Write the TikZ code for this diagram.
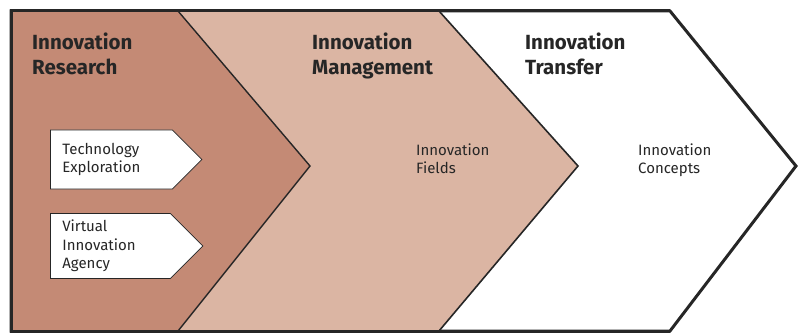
\documentclass[tikz,border=0pt]{standalone}
\usepackage{fontspec}
\setmainfont{Fira Sans}
\usepackage{tikz}
\usetikzlibrary{shapes.symbols}
\definecolor{research}{HTML}{C48A75}
\definecolor{management}{HTML}{DBB5A3}
\colorlet{transfer}{white}
\colorlet{ink}{black!85}
\tikzset{
  stage title/.style={anchor=north west,align=left,inner sep=0pt,text=ink,
    font=\bfseries\fontsize{20.5}{25}\selectfont},
  stage item/.style={anchor=north west,align=left,inner sep=0pt,text=ink,
    font=\fontsize{15}{17.5}\selectfont},
  subtask/.style={signal,signal to=east,signal pointer angle=90,draw=ink,
    fill=white,thick,anchor=west,inner xsep=12pt,align=left,
    text=ink,font=\fontsize{15}{18.5}\selectfont},
}

\begin{document}
\begin{tikzpicture}[x=1pt,y=1pt]
\useasboundingbox (0,0) rectangle (799,335);
% the three stages, back to front
\filldraw[fill=transfer,draw=ink,line width=3pt]
  (11,4) -- (670,4) -- (796,169) -- (670,324) -- (11,324) -- cycle;
\filldraw[fill=management,draw=ink,line width=1.6pt]
  (11,4) -- (439,4) -- (578,169) -- (439,324) -- (11,324) -- cycle;
\filldraw[fill=research,draw=ink,line width=1.4pt]
  (11,4) -- (178,4) -- (310,169) -- (178,324) -- (11,324) -- cycle;
% outer frame
\draw[ink,line width=3pt] (670,4) -- (11,4) -- (11,324) -- (670,324);

\node[stage title] (research) at (32,302) {Innovation\\Research};
\node[stage title] (management) at (312,302) {Innovation\\Management};
\node[stage title] (transfer) at (525,302) {Innovation\\Transfer};

\node[subtask,minimum height=59pt,text width=98pt] (exploration)
  at (50,175.5) {Technology\\Exploration};
\node[subtask,minimum height=65pt,text width=96pt] (agency)
  at (50,89) {Virtual\\Innovation\\Agency};

\node[stage item] (fields) at (416,191) {Innovation\\Fields};
\node[stage item] (concepts) at (638,191) {Innovation\\Concepts};
\end{tikzpicture}
\end{document}
